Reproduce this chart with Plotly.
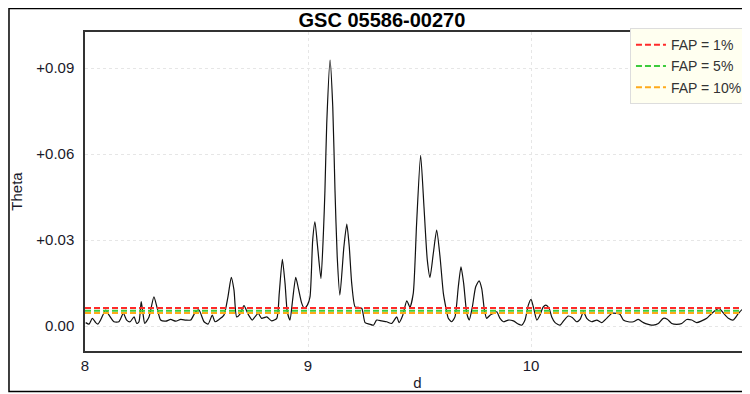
import plotly.graph_objects as go

# Periodogram data (d vs Theta)
d = [8.003, 8.018, 8.033, 8.048, 8.058, 8.070, 8.093, 8.108, 8.130, 8.152, 8.172, 8.187,
     8.202, 8.220, 8.232, 8.242, 8.252, 8.261, 8.268, 8.287, 8.309, 8.324, 8.339, 8.362,
     8.384, 8.407, 8.429, 8.452, 8.474, 8.496, 8.511, 8.534, 8.552, 8.571, 8.583, 8.601,
     8.623, 8.641, 8.656, 8.668, 8.680, 8.695, 8.713, 8.731, 8.750, 8.762, 8.777, 8.792,
     8.815, 8.837, 8.860, 8.871, 8.885, 8.897, 8.907, 8.919, 8.931, 8.945, 8.957, 8.972,
     8.983, 8.997, 9.009, 9.021, 9.031, 9.043, 9.058, 9.069, 9.076, 9.084, 9.099, 9.111,
     9.121, 9.131, 9.143, 9.161, 9.174, 9.185, 9.196, 9.211, 9.226, 9.241, 9.256, 9.275,
     9.293, 9.308, 9.330, 9.353, 9.375, 9.398, 9.408, 9.425, 9.443, 9.457, 9.472, 9.487,
     9.505, 9.520, 9.535, 9.547, 9.562, 9.577, 9.592, 9.607, 9.619, 9.629, 9.644, 9.659,
     9.674, 9.686, 9.698, 9.712, 9.723, 9.737, 9.752, 9.767, 9.779, 9.791, 9.801, 9.816,
     9.831, 9.846, 9.861, 9.876, 9.898, 9.921, 9.943, 9.958, 9.973, 9.988, 10.000, 10.012,
     10.026, 10.040, 10.055, 10.067, 10.081, 10.093, 10.108, 10.130, 10.149, 10.167, 10.185,
     10.205, 10.220, 10.235, 10.250, 10.272, 10.295, 10.317, 10.339, 10.362, 10.384, 10.399,
     10.414, 10.436, 10.459, 10.481, 10.504, 10.526, 10.548, 10.571, 10.593, 10.611, 10.631,
     10.653, 10.676, 10.698, 10.721, 10.743, 10.765, 10.788, 10.810, 10.833, 10.844, 10.862,
     10.885, 10.907, 10.930, 10.948, 10.963, 10.979]

theta = [0.0012, 0.0007, 0.0027, 0.0012, 0.0007, 0.0021, 0.0056, 0.0038, 0.0015, 0.0015, 0.0044, 0.0021,
         0.0015, 0.0032, 0.0009, 0.0015, 0.0085, 0.0038, 0.0009, 0.0032, 0.0102, 0.0062, 0.0021, 0.0017,
         0.0023, 0.0017, 0.0023, 0.0021, 0.0021, 0.0050, 0.0056, 0.0015, 0.0007, 0.0038, 0.0015, 0.0023,
         0.0038, 0.0102, 0.0170, 0.0126, 0.0032, 0.0042, 0.0071, 0.0042, 0.0021, 0.0032, 0.0044, 0.0027,
         0.0032, 0.0018, 0.0027, 0.0114, 0.0233, 0.0149, 0.0050, 0.0021, 0.0091, 0.0170, 0.0131, 0.0079,
         0.0062, 0.0073, 0.0102, 0.0300, 0.0364, 0.0277, 0.0166, 0.0323, 0.0474, 0.0707, 0.0928, 0.0765,
         0.0474, 0.0242, 0.0108, 0.0277, 0.0356, 0.0277, 0.0149, 0.0067, 0.0065, 0.0062, 0.0012, 0.0007,
         0.0003, 0.0021, 0.0018, 0.0015, 0.0009, 0.0032, 0.0012, 0.0038, 0.0088, 0.0066, 0.0114, 0.0358,
         0.0596, 0.0416, 0.0230, 0.0170, 0.0254, 0.0335, 0.0242, 0.0114, 0.0062, 0.0027, 0.0015, 0.0032,
         0.0137, 0.0207, 0.0149, 0.0044, 0.0021, 0.0067, 0.0137, 0.0158, 0.0131, 0.0056, 0.0027, 0.0038,
         0.0044, 0.0050, 0.0027, 0.0015, 0.0021, 0.0018, 0.0007, 0.0003, 0.0021, 0.0073, 0.0093, 0.0062,
         0.0021, 0.0038, 0.0067, 0.0073, 0.0062, 0.0032, 0.0012, 0.0003, 0.0021, 0.0035, 0.0030,
         0.0015, 0.0023, 0.0050, 0.0027, 0.0015, 0.0021, 0.0012, 0.0027, 0.0044, 0.0044, 0.0041,
         0.0021, 0.0015, 0.0015, 0.0023, 0.0012, 0.0006, 0.0003, 0.0009, 0.0027, 0.0024, 0.0009,
         0.0006, 0.0009, 0.0023, 0.0021, 0.0012, 0.0018, 0.0027, 0.0044, 0.0058, 0.0062, 0.0046,
         0.0027, 0.0021, 0.0044, 0.0058, 0.0044, 0.0027]

fap_labels = ["FAP = 1%", "FAP = 5%", "FAP = 10%"]
fap_values = [0.0063, 0.0053, 0.0046]
fap_colors = ["#ff2a2a", "#3ccc3c", "#ffaa1a"]

x_range = [8, 10.982]
y_range = [-0.0087, 0.1026]
y_tickvals = [0.0, 0.03, 0.06, 0.09]
y_ticktext = ["0.00", "+0.03", "+0.06", "+0.09"]
x_tickvals = [8, 9, 10]
x_ticktext = ["8", "9", "10"]

fig = go.Figure()
fig.add_trace(go.Scatter(x=d, y=theta, mode="lines",
                         line=dict(color="#111", width=1.2, shape="spline", smoothing=0.6),
                         showlegend=False, hoverinfo="skip"))
for lab, val, col in zip(fap_labels, fap_values, fap_colors):
    fig.add_trace(go.Scatter(x=x_range, y=[val, val], mode="lines", name=lab,
                             line=dict(color=col, width=2, dash="6px,3px")))

fig.update_layout(
    width=742, height=386,
    margin=dict(l=77, r=0, t=24, b=43, autoexpand=False),
    paper_bgcolor="white", plot_bgcolor="white",
    font=dict(family="Liberation Sans, Arial, sans-serif", size=15, color="#1a1a2a"),
    title=dict(text="<b>GSC 05586-00270</b>", x=0.504, xref="container", xanchor="center",
               y=1 - 11.5 / 386, yref="container", yanchor="middle",
               font=dict(size=20, color="black")),
    legend=dict(x=0.8195, xanchor="left", y=1.012, yanchor="top", bgcolor="#fffff0",
                bordercolor="#dddddd", borderwidth=1, font=dict(size=14, color="#333"),
                tracegroupgap=0, itemwidth=30),
    shapes=[dict(type="rect", xref="paper", yref="paper", x0=-0.1143, x1=1.05, y0=-0.127, y1=1.0737,
                 line=dict(color="black", width=1.5), fillcolor="rgba(0,0,0,0)", layer="below")],
)
fig.update_xaxes(range=x_range, tickvals=x_tickvals, ticktext=x_ticktext, showgrid=True,
                 gridcolor="#e6e6e6", griddash="dot", zeroline=False, showline=True, linecolor="#333",
                 linewidth=1.5, mirror=True, ticks="", tickfont=dict(size=15),
                 title=dict(text="d", standoff=5, font=dict(size=15)))
fig.update_yaxes(range=y_range, tickvals=y_tickvals, ticktext=y_ticktext, showgrid=True,
                 gridcolor="#e6e6e6", griddash="dot", zeroline=False, showline=True, linecolor="#333",
                 linewidth=1.5, mirror=True, ticks="", ticklabelstandoff=6, tickfont=dict(size=15),
                 title=dict(text="Theta", standoff=12, font=dict(size=15)))

fig.write_html("out.html")
